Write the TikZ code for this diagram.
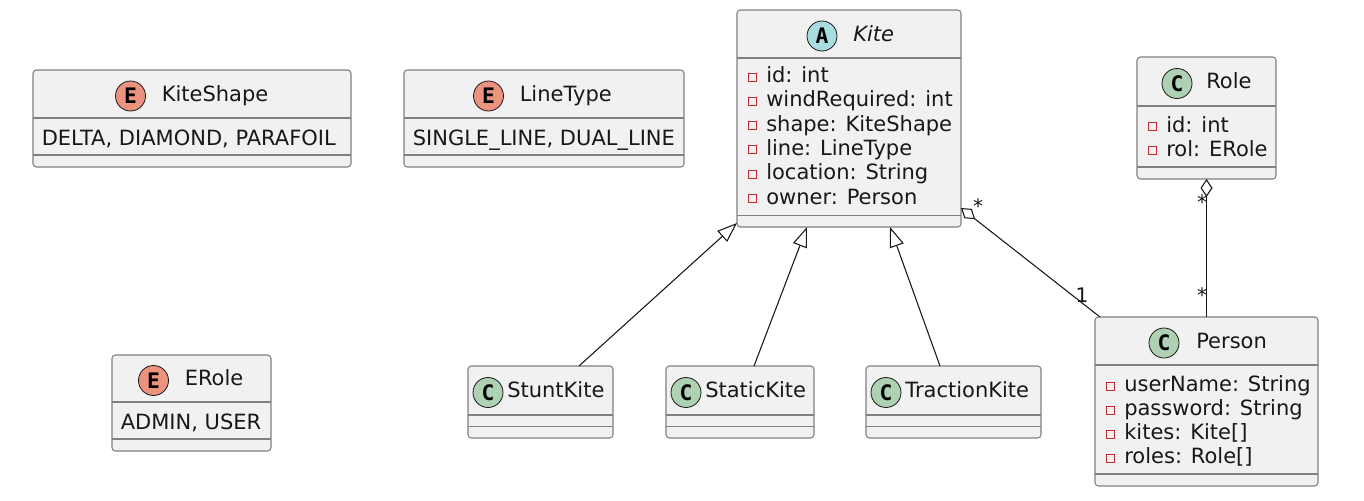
\documentclass[tikz,border=0pt]{standalone}
\usepackage{fontspec}
\setmainfont{DejaVu Sans}
\setmonofont{DejaVu Sans Mono}
\usetikzlibrary{arrows.meta,calc}

\definecolor{boxfill}{HTML}{F1F1F1}
\definecolor{boxline}{HTML}{181818}
\definecolor{privred}{HTML}{C82930}
\definecolor{absicon}{HTML}{A9DCDF}
\definecolor{classicon}{HTML}{ADD1B2}
\definecolor{enumicon}{HTML}{EB937F}

\tikzset{
  umlbox/.style={draw=boxline!55, fill=boxfill, line width=0.8pt,
    rounded corners=2.5pt, inner sep=0pt, outer sep=0pt},
  divider/.style={draw=boxline!55, line width=0.8pt},
  icon/.style={circle, draw=boxline, line width=0.6pt, minimum size=22.5pt,
    inner sep=0pt, font=\fontsize{16}{16}\ttfamily\bfseries},
  title/.style={inner sep=0pt, text=boxline, font=\fontsize{15.75}{18}\selectfont},
  field/.style={inner sep=0pt, text=boxline, font=\fontsize{15.75}{18}\selectfont},
  privicon/.style={draw=privred, line width=0.75pt},
  mult/.style={inner sep=0pt, text=boxline, font=\fontsize{15}{18}\selectfont},
  link/.style={draw=boxline, line width=0.8pt},
  extends/.style={link, -{Triangle[open, length=15pt, width=11pt]}},
  aggr/.style={link, {Diamond[open, fill=white, length=13.5pt, width=9pt]}-},
}

% box: name, left, top, right, bottom, first divider, second divider
\newcommand\umlclass[7]{%
  \node[umlbox, minimum width={(#4-#2)*0.75pt}, minimum height={(#5-#3)*0.75pt}]
    (#1) at ({(#2+#4)/2},{(#3+#5)/2}) {};
  \draw[divider] (#2,#6) -- (#4,#6);
  \draw[divider] (#2,#7) -- (#4,#7);
}
% header: name, icon colour, letter, icon centre x, text x, header centre y, title
\newcommand\umlhead[7]{%
  \node[icon, fill=#2] (#1-icon) at (#4,#6+2) {#3};
  \node[title, anchor=base west] (#1-title) at (#5,#6+7) {#7};
}
% private field: name, box left, baseline, text
\newcommand\umlattr[4]{%
  \draw[privicon] (#2+11.5,#3-9.5) rectangle (#2+19.5,#3-1.5);
  \node[field, anchor=base west] (#1) at (#2+29,#3) {#4};
}

\begin{document}
\begin{tikzpicture}[x=0.75pt, y=-0.75pt]
\useasboundingbox[fill=white] (0,0) rectangle (1364,500);

% enumerations
\umlclass{kiteshape}{33}{70}{351}{167}{118}{155}
\umlhead{kiteshape}{enumicon}{E}{130.5}{161.5}{94}{KiteShape}
\node[field, anchor=base west] (kiteshape-values) at (41.5,145) {DELTA, DIAMOND, PARAFOIL};

\umlclass{linetype}{404}{70}{684}{167}{118}{155}
\umlhead{linetype}{enumicon}{E}{488.5}{519.5}{94}{LineType}
\node[field, anchor=base west] (linetype-values) at (412.5,145) {SINGLE\_LINE, DUAL\_LINE};

\umlclass{erole}{112}{355}{271}{451}{402}{439}
\umlhead{erole}{enumicon}{E}{153.5}{184.5}{378.5}{ERole}
\node[field, anchor=base west] (erole-values) at (120.5,429) {ADMIN, USER};

% abstract Kite
\umlclass{kite}{737}{10}{961}{227}{58}{215.5}
\umlhead{kite}{absicon}{A}{822}{853}{34}{\itshape Kite}
\umlattr{kite-id}{737}{82.5}{id: int}
\umlattr{kite-wind}{737}{106.8}{windRequired: int}
\umlattr{kite-shape}{737}{131.1}{shape: KiteShape}
\umlattr{kite-line}{737}{155.4}{line: LineType}
\umlattr{kite-location}{737}{179.7}{location: String}
\umlattr{kite-owner}{737}{204}{owner: Person}

% Role
\umlclass{role}{1137}{57}{1276}{179}{106}{167}
\umlhead{role}{classicon}{C}{1177}{1206}{81.5}{Role}
\umlattr{role-id}{1137}{132}{id: int}
\umlattr{role-rol}{1137}{156}{rol: ERole}

% Person
\umlclass{person}{1095}{317}{1318}{486}{365}{474}
\umlhead{person}{classicon}{C}{1164}{1196}{341}{Person}
\umlattr{person-user}{1095}{391.5}{userName: String}
\umlattr{person-pass}{1095}{415.5}{password: String}
\umlattr{person-kites}{1095}{439.5}{kites: Kite[]}
\umlattr{person-roles}{1095}{463.5}{roles: Role[]}

% concrete kites
\umlclass{stunt}{468}{366}{613}{438}{415}{426.5}
\umlhead{stunt}{classicon}{C}{488}{507}{390.5}{StuntKite}
\umlclass{static}{666}{366}{814}{438}{415}{426.5}
\umlhead{static}{classicon}{C}{686}{705}{390.5}{StaticKite}
\umlclass{traction}{866}{366}{1041}{438}{415}{426.5}
\umlhead{traction}{classicon}{C}{886}{905}{390.5}{TractionKite}

% generalisations
\draw[extends] ($(stunt.north)+(38.5,0)$) -- ($(kite.south west)+(0,-4)$);
\draw[extends] ($(static.north)+(14,0)$) -- ($(kite.south)+(-42,0)$);
\draw[extends] ($(traction.north)+(-13.5,0)$) -- ($(kite.south)+(41,0)$);

% aggregations
\draw[aggr] ($(kite.south east)+(0,-19)$) -- ($(person.north west)+(5,0)$);
\draw[aggr] (role.south) -- (person.north);

% multiplicities
\node[mult, anchor=base] (m-kite) at (978,213) {*};
\node[mult, anchor=base] (m-owner) at (1082,302) {1};
\node[mult, anchor=base] (m-role) at (1202,209) {*};
\node[mult, anchor=base] (m-person) at (1202,302) {*};
\end{tikzpicture}
\end{document}
